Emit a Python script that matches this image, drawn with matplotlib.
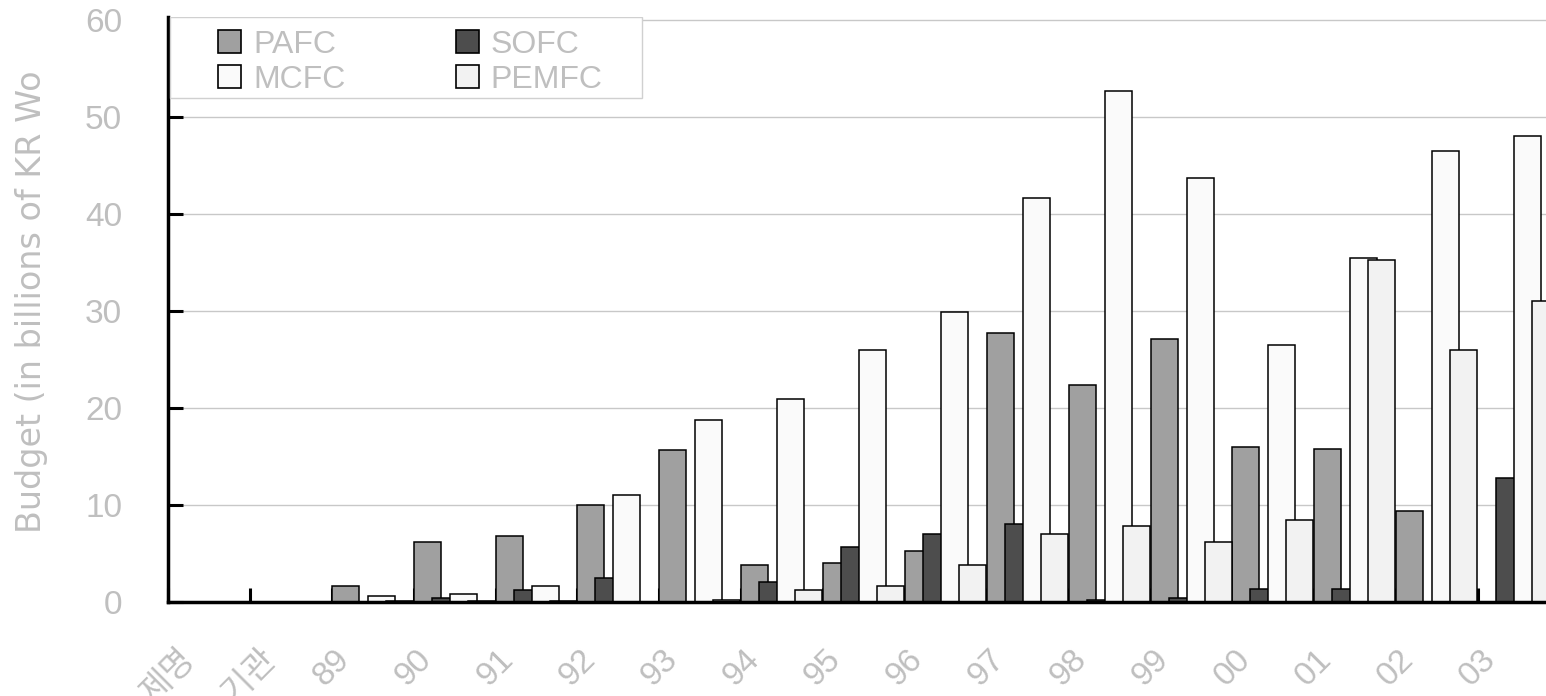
import matplotlib
matplotlib.use("Agg")
import matplotlib.pyplot as plt
from matplotlib.patches import Patch, Rectangle
import numpy as np

plt.rcParams['font.family'] = ['Liberation Sans', 'Noto Sans CJK KR', 'DejaVu Sans']

categories = ['제명', '기관', '89', '90', '91', '92', '93', '94', '95', '96',
              '97', '98', '99', '00', '01', '02', '03']
years = categories[2:]
series_names = ['PAFC', 'SOFC', 'MCFC', 'PEMFC']
pafc = [1.7, 6.2, 6.8, 10.0, 15.7, 3.8, 4.0, 5.3, 27.7, 22.4, 27.1, 16.0, 15.8, 9.4, 0.0]
sofc = [0.0, 0.4, 1.2, 2.5, 0.0, 2.1, 5.7, 7.0, 8.0, 0.2, 0.4, 1.3, 1.3, 0.0, 12.8]
mcfc = [0.6, 0.8, 1.7, 11.0, 18.8, 20.9, 26.0, 29.9, 41.6, 52.7, 43.7, 26.5, 35.5, 46.5, 48.0]
pemfc = [0.15, 0.15, 0.15, 0.0, 0.2, 1.2, 1.7, 3.8, 7.0, 7.8, 6.2, 8.5, 35.3, 26.0, 31.0]
yticks = [0, 10, 20, 30, 40, 50, 60]
ylabel = 'Budget (in billions of KR Wo'

colors = ['#a0a0a0', '#4d4d4d', '#fafafa', '#f2f2f2']
text_color = '#bfbfbf'

W, H = 1546, 696
fig = plt.figure(figsize=(W / 100, H / 100), dpi=100)
ax_left, ax_right, ax_top, ax_bottom = 168, 1546, 17, 602
ax = fig.add_axes([ax_left / W, (H - ax_bottom) / H, (ax_right - ax_left) / W,
                   (ax_bottom - ax_top) / H])

cat_px = 81.875
x = np.arange(len(years)) + 2
step = 18 / cat_px
width = 27 / cat_px
for j, vals in enumerate([pafc, sofc, mcfc, pemfc]):
    ax.bar(x + j * step, vals, width=width, align='edge', color=colors[j],
           edgecolor='black', linewidth=1.1, zorder=2)

ax.set_xlim(0, (ax_right - ax_left) / cat_px)
ax.set_ylim(0, 60.3)
ax.set_yticks(yticks)
ax.set_xticks(np.arange(len(categories)))
ax.set_xticklabels(categories, rotation=45)

ax.yaxis.grid(True, color='#c8c8c8', linewidth=1.0, zorder=0)
ax.set_axisbelow(True)

for s in ['top', 'right']:
    ax.spines[s].set_visible(False)
for s in ['left', 'bottom']:
    ax.spines[s].set_linewidth(2.5)
    ax.spines[s].set_zorder(4)

ax.tick_params(axis='y', direction='in', length=10.5, width=2.2, pad=33,
               labelsize=24, labelcolor=text_color, color='black')
ax.tick_params(axis='x', direction='in', length=10, width=2.2, pad=30,
               labelsize=24, labelcolor=text_color, color='black')

ax.set_ylabel(ylabel, fontsize=24, color=text_color, family=['DejaVu Sans'])
ax.yaxis.set_label_coords((48 - ax_left) / (ax_right - ax_left),
                          (ax_bottom - 302) / (ax_bottom - ax_top))

# legend frame
frame = Rectangle(((170 - ax_left) / (ax_right - ax_left), (ax_bottom - 98) / (ax_bottom - ax_top)),
                  472 / (ax_right - ax_left), 81 / (ax_bottom - ax_top),
                  transform=ax.transAxes, facecolor='white', edgecolor='#d0d0d0',
                  linewidth=1.0, zorder=5)
ax.add_patch(frame)

handles = [Patch(facecolor=c, edgecolor='black', linewidth=1.2) for c in colors]
order = [0, 2, 1, 3]
leg = ax.legend([handles[i] for i in order], [series_names[i] for i in order],
                ncol=2, frameon=False, loc='upper left',
                bbox_to_anchor=((218 - ax_left) / (ax_right - ax_left),
                                (ax_bottom - 30) / (ax_bottom - ax_top)),
                borderpad=0, borderaxespad=0, fontsize=23,
                handlelength=0.72, handleheight=0.72, handletextpad=0.38,
                labelspacing=0.15, columnspacing=3.45)
leg.set_zorder(6)
for t in leg.get_texts():
    t.set_color(text_color)

fig.savefig('out.png', dpi=100)
